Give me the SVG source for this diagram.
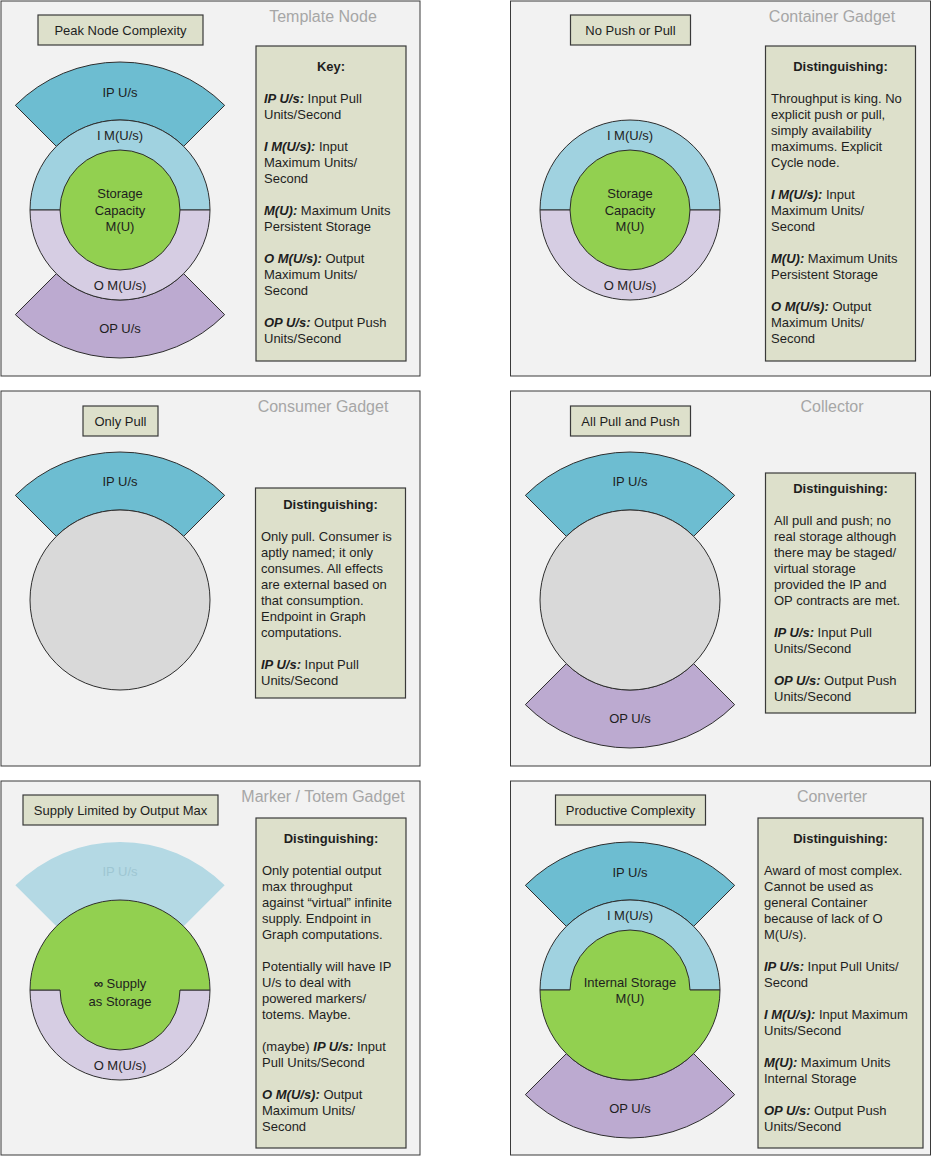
<svg xmlns="http://www.w3.org/2000/svg" xmlns:xlink="http://www.w3.org/1999/xlink" width="931" height="1156" viewBox="0 0 931 1156">
<style>
.panel{fill:#f2f2f2;stroke:#3a3a3a;stroke-width:1}
.lbl{fill:#dde0cb;stroke:#3a3a3a;stroke-width:1.2}
.box{fill:#dde0cb;stroke:#3a3a3a;stroke-width:1.2}
.t{font-family:"Liberation Sans",Arial,sans-serif;font-size:13px;fill:#1e1e1e}
.c{text-anchor:middle}
.title{font-family:"Liberation Sans",Arial,sans-serif;font-size:16px;fill:#a6a6a6;text-anchor:middle}
.b{font-weight:bold}
.bi{font-weight:bold;font-style:italic}
.ip{fill:#6dbdd1;stroke:#2e2e2e;stroke-width:1}
.ipf{fill:#b4d9e4;stroke:none}
.op{fill:#bcaad0;stroke:#2e2e2e;stroke-width:1}
.im{fill:#a0d2e0;stroke:#2e2e2e;stroke-width:1}
.om{fill:#d6cde3;stroke:#2e2e2e;stroke-width:1}
.gr{fill:#92d050;stroke:#2e2e2e;stroke-width:1}
.gy{fill:#d9d9d9;stroke:#2e2e2e;stroke-width:1}
</style>
<defs>
<path id="ipS" d="M-104.65,-104.65 A148,148 0 0 1 104.65,-104.65 L63.64,-63.64 A90,90 0 0 0 -63.64,-63.64 Z"/>
<path id="opS" d="M-104.65,104.65 A148,148 0 0 0 104.65,104.65 L63.64,63.64 A90,90 0 0 1 -63.64,63.64 Z"/>
<path id="topH" d="M-90,0 A90,90 0 0 1 90,0 Z"/>
<path id="botH" d="M-90,0 A90,90 0 0 0 90,0 Z"/>
</defs>

<g id="template-node">
<rect class="panel" x="1" y="1" width="419" height="375"/>
<text class="title" x="323" y="22">Template Node</text>
<rect class="lbl" x="38" y="15" width="165" height="30"/>
<text class="t c" x="120.5" y="34.5">Peak Node Complexity</text>
<g transform="translate(120,210)">
<use href="#ipS" class="ip"/>
<use href="#opS" class="op"/>
<use href="#topH" class="im"/>
<use href="#botH" class="om"/>
<circle r="60" class="gr"/>
</g>
<text class="t c" x="120" y="97">IP U/s</text>
<text class="t c" x="120" y="139.5">I M(U/s)</text>
<text class="t c" x="120" y="198">Storage</text>
<text class="t c" x="120" y="214.5">Capacity</text>
<text class="t c" x="120" y="230.5">M(U)</text>
<text class="t c" x="120" y="289.5">O M(U/s)</text>
<text class="t c" x="120" y="332.5">OP U/s</text>
<rect class="box" x="256" y="46" width="150" height="315"/>
<text class="t c b" x="331" y="71">Key:</text>
<text class="t" x="264" y="103"><tspan class="bi">IP U/s:</tspan> Input Pull</text>
<text class="t" x="264" y="119">Units/Second</text>
<text class="t" x="264" y="151"><tspan class="bi">I M(U/s):</tspan> Input</text>
<text class="t" x="264" y="167">Maximum Units/</text>
<text class="t" x="264" y="183">Second</text>
<text class="t" x="264" y="215"><tspan class="bi">M(U):</tspan> Maximum Units</text>
<text class="t" x="264" y="231">Persistent Storage</text>
<text class="t" x="264" y="263"><tspan class="bi">O M(U/s):</tspan> Output</text>
<text class="t" x="264" y="279">Maximum Units/</text>
<text class="t" x="264" y="295">Second</text>
<text class="t" x="264" y="327"><tspan class="bi">OP U/s:</tspan> Output Push</text>
<text class="t" x="264" y="343">Units/Second</text>
</g>

<g id="container-gadget">
<rect class="panel" x="510.5" y="1" width="420" height="375"/>
<text class="title" x="832" y="22">Container Gadget</text>
<rect class="lbl" x="570.5" y="15" width="120" height="30"/>
<text class="t c" x="630.5" y="34.5">No Push or Pull</text>
<g transform="translate(630,210)">
<use href="#topH" class="im"/>
<use href="#botH" class="om"/>
<circle r="60" class="gr"/>
</g>
<text class="t c" x="630" y="139.5">I M(U/s)</text>
<text class="t c" x="630" y="198">Storage</text>
<text class="t c" x="630" y="214.5">Capacity</text>
<text class="t c" x="630" y="230.5">M(U)</text>
<text class="t c" x="630" y="289.5">O M(U/s)</text>
<rect class="box" x="765.5" y="46" width="150" height="315"/>
<text class="t c b" x="840.5" y="71">Distinguishing:</text>
<text class="t" x="771" y="103">Throughput is king. No</text>
<text class="t" x="771" y="119">explicit push or pull,</text>
<text class="t" x="771" y="135">simply availability</text>
<text class="t" x="771" y="151">maximums. Explicit</text>
<text class="t" x="771" y="167">Cycle node.</text>
<text class="t" x="771" y="199"><tspan class="bi">I M(U/s):</tspan> Input</text>
<text class="t" x="771" y="215">Maximum Units/</text>
<text class="t" x="771" y="231">Second</text>
<text class="t" x="771" y="263"><tspan class="bi">M(U):</tspan> Maximum Units</text>
<text class="t" x="771" y="279">Persistent Storage</text>
<text class="t" x="771" y="311"><tspan class="bi">O M(U/s):</tspan> Output</text>
<text class="t" x="771" y="327">Maximum Units/</text>
<text class="t" x="771" y="343">Second</text>
</g>

<g id="consumer-gadget">
<rect class="panel" x="1" y="391" width="419" height="375"/>
<text class="title" x="323" y="412">Consumer Gadget</text>
<rect class="lbl" x="83" y="406" width="75" height="30"/>
<text class="t c" x="120.5" y="425.5">Only Pull</text>
<g transform="translate(120,600)">
<use href="#ipS" class="ip"/>
<circle r="90" class="gy"/>
</g>
<text class="t c" x="120" y="485.5">IP U/s</text>
<rect class="box" x="255.5" y="488" width="150" height="210"/>
<text class="t c b" x="330.5" y="509">Distinguishing:</text>
<text class="t" x="261" y="541">Only pull. Consumer is</text>
<text class="t" x="261" y="557">aptly named; it only</text>
<text class="t" x="261" y="573">consumes. All effects</text>
<text class="t" x="261" y="589">are external based on</text>
<text class="t" x="261" y="605">that consumption.</text>
<text class="t" x="261" y="621">Endpoint in Graph</text>
<text class="t" x="261" y="637">computations.</text>
<text class="t" x="261" y="669"><tspan class="bi">IP U/s:</tspan> Input Pull</text>
<text class="t" x="261" y="685">Units/Second</text>
</g>

<g id="collector">
<rect class="panel" x="510.5" y="391" width="420" height="375"/>
<text class="title" x="832" y="412">Collector</text>
<rect class="lbl" x="570.5" y="406" width="120" height="30"/>
<text class="t c" x="630.5" y="425.5">All Pull and Push</text>
<g transform="translate(630,600)">
<use href="#ipS" class="ip"/>
<use href="#opS" class="op"/>
<circle r="90" class="gy"/>
</g>
<text class="t c" x="630" y="485.5">IP U/s</text>
<text class="t c" x="630" y="722.5">OP U/s</text>
<rect class="box" x="765.5" y="473" width="150" height="240"/>
<text class="t c b" x="840.5" y="493">Distinguishing:</text>
<text class="t" x="774" y="525">All pull and push; no</text>
<text class="t" x="774" y="541">real storage although</text>
<text class="t" x="774" y="557">there may be staged/</text>
<text class="t" x="774" y="573">virtual storage</text>
<text class="t" x="774" y="589">provided the IP and</text>
<text class="t" x="774" y="605">OP contracts are met.</text>
<text class="t" x="774" y="637"><tspan class="bi">IP U/s:</tspan> Input Pull</text>
<text class="t" x="774" y="653">Units/Second</text>
<text class="t" x="774" y="685"><tspan class="bi">OP U/s:</tspan> Output Push</text>
<text class="t" x="774" y="701">Units/Second</text>
</g>

<g id="marker-totem-gadget">
<rect class="panel" x="1" y="781" width="419" height="374"/>
<text class="title" x="323" y="802">Marker / Totem Gadget</text>
<rect class="lbl" x="23" y="795" width="195" height="30"/>
<text class="t c" x="120.5" y="815">Supply Limited by Output Max</text>
<g transform="translate(120,990)">
<use href="#ipS" class="ipf"/>
<use href="#botH" class="om"/>
<path class="gr" d="M-90,0 A90,90 0 0 1 90,0 L60,0 A60,60 0 0 1 -60,0 Z"/>
</g>
<text class="t c" x="120" y="875.5" fill="#9ec6d2" style="fill:#9ec6d2">IP U/s</text>
<text class="t c" x="120" y="987.5"><tspan class="b">∞</tspan> Supply</text>
<text class="t c" x="120" y="1006">as Storage</text>
<text class="t c" x="120" y="1069.5">O M(U/s)</text>
<rect class="box" x="256" y="818" width="150" height="330"/>
<text class="t c b" x="331" y="843">Distinguishing:</text>
<text class="t" x="262" y="875">Only potential output</text>
<text class="t" x="262" y="891">max throughput</text>
<text class="t" x="262" y="907">against “virtual” infinite</text>
<text class="t" x="262" y="923">supply. Endpoint in</text>
<text class="t" x="262" y="939">Graph computations.</text>
<text class="t" x="262" y="971">Potentially will have IP</text>
<text class="t" x="262" y="987">U/s to deal with</text>
<text class="t" x="262" y="1003">powered markers/</text>
<text class="t" x="262" y="1019">totems. Maybe.</text>
<text class="t" x="262" y="1051">(maybe) <tspan class="bi">IP U/s:</tspan> Input</text>
<text class="t" x="262" y="1067">Pull Units/Second</text>
<text class="t" x="262" y="1099"><tspan class="bi">O M(U/s):</tspan> Output</text>
<text class="t" x="262" y="1115">Maximum Units/</text>
<text class="t" x="262" y="1131">Second</text>
</g>

<g id="converter">
<rect class="panel" x="510.5" y="781" width="420" height="374"/>
<text class="title" x="832" y="802">Converter</text>
<rect class="lbl" x="555.5" y="795" width="150" height="30"/>
<text class="t c" x="630.5" y="815">Productive Complexity</text>
<g transform="translate(630,990)">
<use href="#ipS" class="ip"/>
<use href="#opS" class="op"/>
<use href="#topH" class="im"/>
<path class="gr" d="M-90,0 A90,90 0 0 0 90,0 L60,0 A60,60 0 0 0 -60,0 Z"/>
</g>
<text class="t c" x="630" y="876.5">IP U/s</text>
<text class="t c" x="630" y="919.5">I M(U/s)</text>
<text class="t c" x="630" y="986.5">Internal Storage</text>
<text class="t c" x="630" y="1002.5">M(U)</text>
<text class="t c" x="630" y="1112.5">OP U/s</text>
<rect class="box" x="758" y="818" width="165" height="330"/>
<text class="t c b" x="840.5" y="843">Distinguishing:</text>
<text class="t" x="764" y="875">Award of most complex.</text>
<text class="t" x="764" y="891">Cannot be used as</text>
<text class="t" x="764" y="907">general Container</text>
<text class="t" x="764" y="923">because of lack of O</text>
<text class="t" x="764" y="939">M(U/s).</text>
<text class="t" x="764" y="971"><tspan class="bi">IP U/s:</tspan> Input Pull Units/</text>
<text class="t" x="764" y="987">Second</text>
<text class="t" x="764" y="1019"><tspan class="bi">I M(U/s):</tspan> Input Maximum</text>
<text class="t" x="764" y="1035">Units/Second</text>
<text class="t" x="764" y="1067"><tspan class="bi">M(U):</tspan> Maximum Units</text>
<text class="t" x="764" y="1083">Internal Storage</text>
<text class="t" x="764" y="1115"><tspan class="bi">OP U/s:</tspan> Output Push</text>
<text class="t" x="764" y="1131">Units/Second</text>
</g>

<g id="connectors"/>
</svg>
